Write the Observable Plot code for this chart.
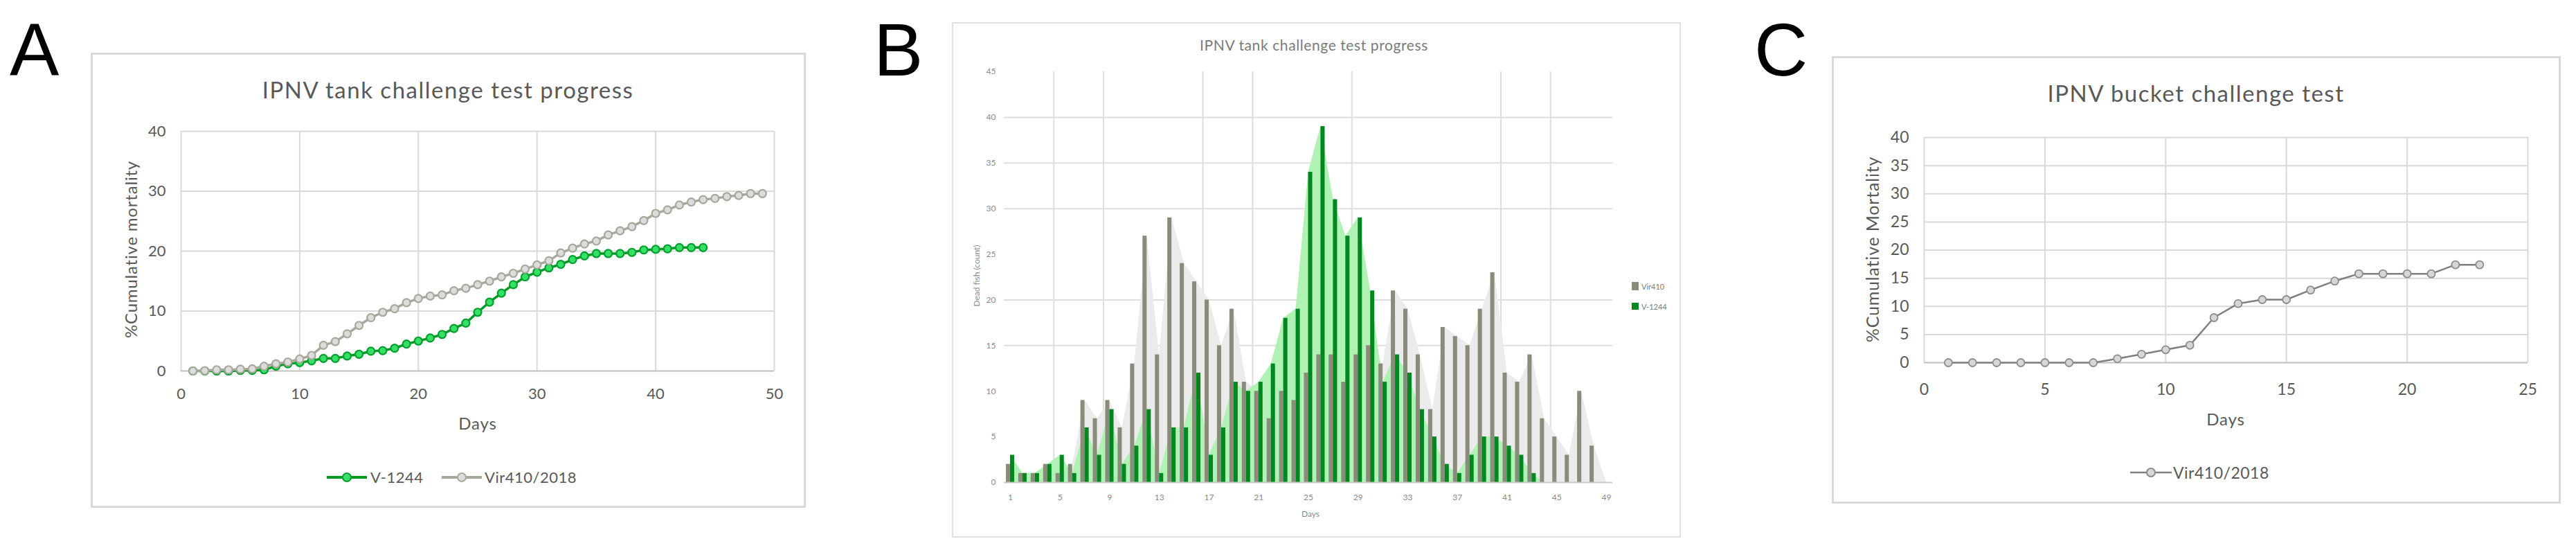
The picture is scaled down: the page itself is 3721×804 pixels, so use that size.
<!DOCTYPE html>
<html>
<head>
<meta charset="utf-8">
<script src="https://cdn.jsdelivr.net/npm/d3@7"></script>
<script src="https://cdn.jsdelivr.net/npm/@observablehq/plot@0.6"></script>
<style>
html,body{margin:0;padding:0;background:#fff;}
#page{position:relative;width:3721px;height:804px;overflow:hidden;background:#fff;font-family:Lato,"Open Sans",sans-serif;color:#595959;}
.box{position:absolute;box-sizing:border-box;}
.letter{position:absolute;font-family:"Liberation Sans",Arial,sans-serif;font-size:107px;line-height:1;color:#000;}
.t{position:absolute;white-space:nowrap;line-height:1;transform:translate(-50%,-50%);}
.ty{position:absolute;white-space:nowrap;line-height:1;transform:translate(-50%,-50%) rotate(-90deg);}
.l{position:absolute;white-space:nowrap;line-height:1;transform:translate(0,-50%);}
</style>
</head>
<body>
<div id="page"></div>
<script>
// ---------------- Panel A : tank challenge, cumulative mortality ----------------
const titleA = "IPNV tank challenge test progress";
const yLabelA = "%Cumulative mortality";
const xLabelA = "Days";
const namesA = ["V-1244", "Vir410/2018"];
const v1244CumA = [0,0,0,0,0.1,0.1,0.2,0.8,1.2,1.4,
                   1.7,2.1,2.1,2.5,2.8,3.3,3.4,3.8,4.5,5.0,
                   5.5,6.1,7.1,8.0,9.8,11.5,13.0,14.4,15.7,16.5,
                   17.2,17.8,18.6,19.2,19.6,19.6,19.6,19.8,20.2,20.3,
                   20.4,20.6,20.6,20.6];
const vir410CumA = [0,0.05,0.2,0.2,0.3,0.35,0.8,1.2,1.5,2.0,
                    2.6,4.3,4.9,6.2,7.6,8.9,9.8,10.4,11.4,12.1,
                    12.5,12.7,13.4,13.8,14.4,15.0,15.7,16.3,17.0,17.7,
                    18.4,19.7,20.5,21.2,21.7,22.7,23.4,24.1,25.1,26.3,
                    26.9,27.7,28.2,28.6,28.8,29.1,29.3,29.6,29.6];
const xTicksA = [0,10,20,30,40,50];
const yTicksA = [0,10,20,30,40];

// ---------------- Panel B : tank challenge, daily dead fish ----------------
const titleB = "IPNV tank challenge test progress";
const yLabelB = "Dead fish (count)";
const xLabelB = "Days";
const namesB = ["Vir410", "V-1244"];
const vir410DailyB = [2,1,1,2,1,2,9,7,9,6,
                      13,27,14,29,24,22,20,15,19,11,
                      10,7,10,9,12,14,14,11,14,15,
                      13,21,19,14,8,17,16,15,19,23,
                      12,11,14,7,5,3,10,4,0];
const v1244DailyB = [3,1,1,2,3,1,6,3,8,2,
                     4,8,1,6,6,12,3,6,11,10,
                     11,13,18,19,34,39,31,27,29,21,
                     11,14,12,8,5,2,1,3,5,5,
                     4,3,1,0,0,0,0,0,0];
const xTicksB = [1,5,9,13,17,21,25,29,33,37,41,45,49];
const yTicksB = [0,5,10,15,20,25,30,35,40,45];
const yGridB = [15,20,30,35,40];
const xGridB = [4.5,8.5,16.5,20.5,28.5,40.5,44.5];

// ---------------- Panel C : bucket challenge ----------------
const titleC = "IPNV bucket challenge test";
const yLabelC = "%Cumulative Mortality";
const xLabelC = "Days";
const namesC = ["Vir410/2018"];
const vir410CumC = [0,0,0,0,0,0,0,0.7,1.5,2.3,
                    3.1,8.0,10.5,11.2,11.2,12.9,14.5,15.8,15.8,15.8,
                    15.8,17.4,17.4];
const xTicksC = [0,5,10,15,20,25];
const yTicksC = [0,5,10,15,20,25,30,35,40];

// ---------------- helpers ----------------
const page = document.getElementById("page");
function addDiv(cls, text, x, y, css) {
  const d = document.createElement("div");
  d.className = cls;
  d.textContent = text;
  d.style.left = x + "px";
  d.style.top = y + "px";
  Object.assign(d.style, css || {});
  page.appendChild(d);
  return d;
}
function addBox(x, y, w, h, border) {
  const d = document.createElement("div");
  d.className = "box";
  Object.assign(d.style, {left: x + "px", top: y + "px", width: w + "px", height: h + "px", border});
  page.appendChild(d);
}
function placePlot(svg, x, y) {
  svg.style.position = "absolute";
  svg.style.left = x + "px";
  svg.style.top = y + "px";
  page.appendChild(svg);
}
function legendLineSymbol(x, y, w, lineColor, lineWidth, fill, stroke, r) {
  const ns = "http://www.w3.org/2000/svg";
  const s = document.createElementNS(ns, "svg");
  s.setAttribute("width", w);
  s.setAttribute("height", 2 * r + 6);
  Object.assign(s.style, {position: "absolute", left: x + "px", top: (y - r - 3) + "px", overflow: "visible"});
  const ln = document.createElementNS(ns, "line");
  ln.setAttribute("x1", 0); ln.setAttribute("x2", w);
  ln.setAttribute("y1", r + 3); ln.setAttribute("y2", r + 3);
  ln.setAttribute("stroke", lineColor); ln.setAttribute("stroke-width", lineWidth);
  s.appendChild(ln);
  const c = document.createElementNS(ns, "circle");
  c.setAttribute("cx", w / 2); c.setAttribute("cy", r + 3); c.setAttribute("r", r);
  c.setAttribute("fill", fill); c.setAttribute("stroke", stroke); c.setAttribute("stroke-width", 2);
  s.appendChild(c);
  page.appendChild(s);
}
function legendSquare(x, y, w, h, color) {
  const d = document.createElement("div");
  Object.assign(d.style, {position: "absolute", left: x + "px", top: y + "px", width: w + "px", height: h + "px", background: color});
  page.appendChild(d);
}

// colours
const greenLine = "#009a22", greenFill = "#36e066", greenStroke = "#00a02c";
const grayLineA = "#a8a89a", grayFillA = "#dcdcdc";
const grayBar = "#8b8b7b", greenBar = "#00871f";
const grayArea = "#ebebeb", greenArea = "#b0f2b4";
const gridColor = "#d9d9d9";

// ================= Panel A =================
addDiv("letter", "A", 14, 19);
addBox(131, 76, 1033, 657, "3px solid #d9d9d9");
const rowsAv = v1244CumA.map((value, i) => ({day: i + 1, value}));
const rowsAg = vir410CumA.map((value, i) => ({day: i + 1, value}));
const plotA = Plot.plot({
  width: 1033, height: 657,
  marginLeft: 130, marginRight: 46, marginTop: 113, marginBottom: 198,
  style: {background: "transparent", fontFamily: "Lato", fontSize: "22px", color: "#595959", overflow: "visible"},
  x: {domain: [0, 50], ticks: xTicksA, tickSize: 0, tickPadding: 25, label: null},
  y: {domain: [0, 40], ticks: yTicksA, tickSize: 0, tickPadding: 22, label: null},
  marks: [
    Plot.ruleX(xTicksA, {stroke: gridColor, strokeWidth: 2}),
    Plot.ruleY(yTicksA.filter(v => v > 0), {stroke: gridColor, strokeWidth: 2}),
    Plot.ruleY([0], {stroke: "#bfbfbf", strokeWidth: 2}),
    Plot.line(rowsAv, {x: "day", y: "value", stroke: greenLine, strokeWidth: 3.5}),
    Plot.dot(rowsAv, {x: "day", y: "value", r: 5.5, fill: greenFill, stroke: greenStroke, strokeWidth: 2.2}),
    Plot.line(rowsAg, {x: "day", y: "value", stroke: grayLineA, strokeWidth: 3.5}),
    Plot.dot(rowsAg, {x: "day", y: "value", r: 5.5, fill: grayFillA, stroke: grayLineA, strokeWidth: 2.2})
  ]
});
placePlot(plotA, 131, 76);
addDiv("t", titleA, 647, 129, {fontSize: "33px", letterSpacing: "1.5px"});
addDiv("ty", yLabelA, 189, 360, {fontSize: "24px", letterSpacing: "0.8px"});
addDiv("t", xLabelA, 690, 611, {fontSize: "24px", letterSpacing: "0.8px"});
legendLineSymbol(472, 689, 58, greenLine, 4, greenFill, greenStroke, 6);
addDiv("l", namesA[0], 535, 689, {fontSize: "22px", letterSpacing: "0.5px"});
legendLineSymbol(638, 689, 58, grayLineA, 4, grayFillA, grayLineA, 6);
addDiv("l", namesA[1], 700, 689, {fontSize: "22px", letterSpacing: "0.5px"});

// ================= Panel B =================
addDiv("letter", "B", 1262, 19);
addBox(1375, 32, 1053, 744, "2px solid #e0e0e0");
const rowsB = vir410DailyB.map((vir, i) => ({day: i + 1, vir, v1244: v1244DailyB[i]}));
const plotB = Plot.plot({
  width: 1053, height: 744,
  marginLeft: 75, marginRight: 99, marginTop: 71, marginBottom: 80,
  style: {background: "transparent", fontFamily: "Lato", fontSize: "12px", color: "#8a8a8a", overflow: "visible"},
  x: {domain: [0.5, 49.5], ticks: xTicksB, tickSize: 0, tickPadding: 17, label: null},
  y: {domain: [0, 45], ticks: yTicksB, tickSize: 0, tickPadding: 12, label: null},
  marks: [
    Plot.ruleY(yGridB, {stroke: "#dedede", strokeWidth: 2}),
    Plot.ruleX(xGridB, {stroke: "#dedede", strokeWidth: 2}),
    Plot.areaY(rowsB, {x: "day", y: "vir", fill: grayArea}),
    Plot.areaY(rowsB, {x: "day", y: "v1244", fill: greenArea}),
    Plot.rectY(rowsB, {x1: d => d.day - 0.335, x2: d => d.day, y: "vir", fill: grayBar}),
    Plot.rectY(rowsB, {x1: d => d.day, x2: d => d.day + 0.335, y: "v1244", fill: greenBar}),
    Plot.ruleY([0], {stroke: "#c8c8c8", strokeWidth: 2})
  ]
});
placePlot(plotB, 1375, 32);
addDiv("t", titleB, 1898, 64, {fontSize: "21px", letterSpacing: "0.6px", color: "#7a7a7a"});
addDiv("ty", yLabelB, 1411, 398, {fontSize: "12px", color: "#8a8a8a"});
addDiv("t", xLabelB, 1893, 742, {fontSize: "12px", color: "#8a8a8a"});
legendSquare(2357, 407, 10, 12, grayBar);
addDiv("l", namesB[0], 2371, 413, {fontSize: "11px", color: "#7a7a7a"});
legendSquare(2357, 437, 10, 10, greenBar);
addDiv("l", namesB[1], 2371, 442, {fontSize: "11px", color: "#7a7a7a"});

// ================= Panel C =================
addDiv("letter", "C", 2534, 19);
addBox(2646, 81, 1053, 646, "3px solid #d9d9d9");
const rowsC = vir410CumC.map((value, i) => ({day: i + 1, value}));
const plotC = Plot.plot({
  width: 1053, height: 646,
  marginLeft: 133, marginRight: 48, marginTop: 117, marginBottom: 204,
  style: {background: "transparent", fontFamily: "Lato", fontSize: "23px", color: "#595959", overflow: "visible"},
  x: {domain: [0, 25], ticks: xTicksC, tickSize: 0, tickPadding: 30, label: null},
  y: {domain: [0, 40], ticks: yTicksC, tickSize: 0, tickPadding: 22, label: null},
  marks: [
    Plot.ruleX(xTicksC, {stroke: gridColor, strokeWidth: 2}),
    Plot.ruleY(yTicksC.filter(v => v > 0), {stroke: gridColor, strokeWidth: 2}),
    Plot.ruleY([0], {stroke: "#bfbfbf", strokeWidth: 2}),
    Plot.line(rowsC, {x: "day", y: "value", stroke: "#7f7f7f", strokeWidth: 2.5}),
    Plot.dot(rowsC, {x: "day", y: "value", r: 5.5, fill: "#d6d6d6", stroke: "#8c8c8c", strokeWidth: 1.8})
  ]
});
placePlot(plotC, 2646, 81);
addDiv("t", titleC, 3172, 134, {fontSize: "33px", letterSpacing: "1.5px"});
addDiv("ty", yLabelC, 2704, 360, {fontSize: "25px", letterSpacing: "0.8px"});
addDiv("t", xLabelC, 3215, 605, {fontSize: "24px", letterSpacing: "0.8px"});
legendLineSymbol(3077, 682, 60, "#7f7f7f", 2.5, "#d6d6d6", "#8c8c8c", 6);
addDiv("l", namesC[0], 3139, 682, {fontSize: "23px", letterSpacing: "0.5px"});
</script>
</body>
</html>
